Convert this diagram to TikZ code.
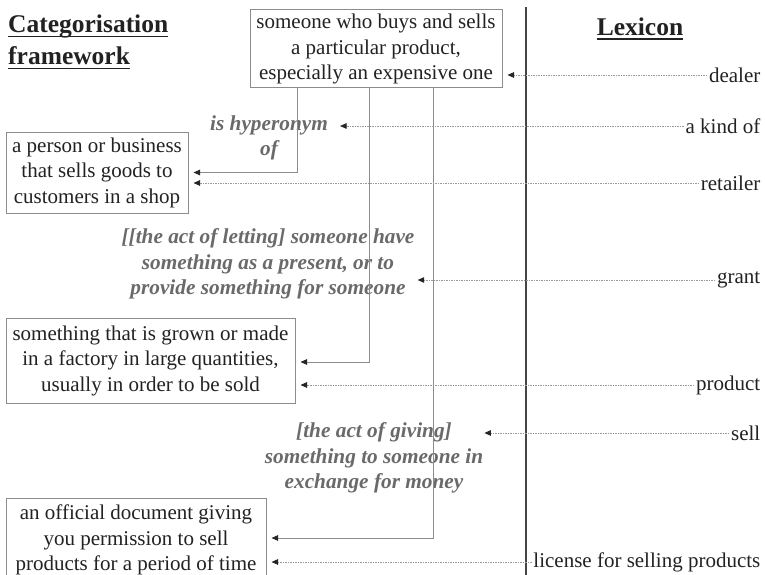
\documentclass[tikz,border=0pt]{standalone}
\usepackage{fontspec}
\setmainfont{Liberation Serif}
\usetikzlibrary{arrows.meta,calc}
\definecolor{boxgray}{HTML}{8C8C8C}
\definecolor{txt}{HTML}{222222}
\definecolor{labgray}{HTML}{6A6A6A}
\definecolor{dotgray}{HTML}{9A9A9A}
\definecolor{divcol}{HTML}{454545}
\newsavebox\hdsave
\newcommand\hdul[1]{\sbox\hdsave{#1}\makebox[0pt][l]{\rule[-4.5pt]{\wd\hdsave}{1.8pt}}\usebox\hdsave}
\begin{document}
\begin{tikzpicture}[x=1pt,y=-1pt,
 every node/.style={text=txt},
 defbox/.style={draw=boxgray,line width=1pt,inner sep=0pt,align=center,font=\fontsize{21}{25.5}\selectfont},
 lex/.style={anchor=east,inner sep=1.5pt,font=\fontsize{21}{25.5}\selectfont},
 rel/.style={align=center,text=labgray,inner sep=0pt,font=\fontsize{21.3}{25.5}\selectfont\bfseries\itshape},
 head/.style={font=\fontsize{25.5}{32}\selectfont\bfseries,align=left,inner sep=0pt},
 tip/.style={-{Triangle[length=6.5pt,width=5.5pt,color=black!85]}},
 dotarrow/.style={tip,draw=dotgray,line width=0.9pt,dash pattern=on 1.5pt off 1pt},
 linkarrow/.style={tip,draw=boxgray,line width=1pt},
]
\clip (0,0) rectangle (765,575);
\fill[white] (0,0) rectangle (765,575);

% headings
\node[head,anchor=north west] (cat) at (8,15) {\hdul{Categorisation}\\\hdul{framework}};
\node[head] (lexhead) at (640,29) {\hdul{Lexicon}};

% divider
\coordinate (divtop) at (526,7);
\coordinate (divbot) at (526,575);
\draw[line width=2.5pt,draw=divcol] (divtop) -- (divbot);

% definition boxes
\node[defbox,minimum width=252pt,minimum height=78pt] (dealerdef) at (376,49) {someone who buys and sells\\a particular product,\\especially an expensive one};
\node[defbox,minimum width=182pt,minimum height=81pt] (retaildef) at (97,172.5) {a person or business\\that sells goods to\\customers in a shop};
\node[defbox,minimum width=289pt,minimum height=85pt] (proddef) at (150.5,360.5) {something that is grown or made\\in a factory in large quantities,\\usually in order to be sold};
\node[defbox,minimum width=260pt,minimum height=84pt] (licdef) at (136,540) {an official document giving\\you permission to sell\\products for a period of time};

% relation labels
\node[rel,inner xsep=12pt] (hyp) at (269,138) {is hyperonym\\of};
\node[rel,inner xsep=3pt] (letting) at (268,264) {[[the act of letting] someone have\\something as a present, or to\\provide something for someone};
\node[rel] (giving) at (374,458) {[the act of giving]\\something to someone in\\exchange for money};

% lexicon
\node[lex] (dealer) at (762,75) {dealer};
\node[lex] (akind) at (762,126) {a kind of};
\node[lex] (retailer) at (762,183) {retailer};
\node[lex] (grant) at (762,280) {grant};
\node[lex] (product) at (762,385) {product};
\node[lex] (sell) at (762,433) {sell};
\node[lex] (license) at (762,562) {license for selling products};

% solid links
\draw[linkarrow,shorten >=5pt] ([xshift=-79pt]dealerdef.south) |- (retaildef.east);
\draw[linkarrow,shorten >=5pt] ([xshift=-7pt]dealerdef.south) |- ([yshift=-1.5pt]proddef.east);
\draw[linkarrow,shorten >=5pt] ([xshift=57pt]dealerdef.south) |- ([yshift=2pt]licdef.east);

% dotted links
\draw[dotarrow,shorten >=5pt] (dealer.west) -- (dealer.west -| dealerdef.east);
\draw[dotarrow] (akind.west) -- (akind.west -| hyp.east);
\draw[dotarrow,shorten >=5pt] (retailer.west) -- (retailer.west -| retaildef.east);
\draw[dotarrow] (grant.west) -- (grant.west -| letting.east);
\draw[dotarrow,shorten >=5pt] (product.west) -- (product.west -| proddef.east);
\draw[dotarrow,shorten >=1pt] (sell.west) -- (sell.west -| giving.east);
\draw[dotarrow,shorten >=5pt] (license.west) -- (license.west -| licdef.east);
\end{tikzpicture}
\end{document}
